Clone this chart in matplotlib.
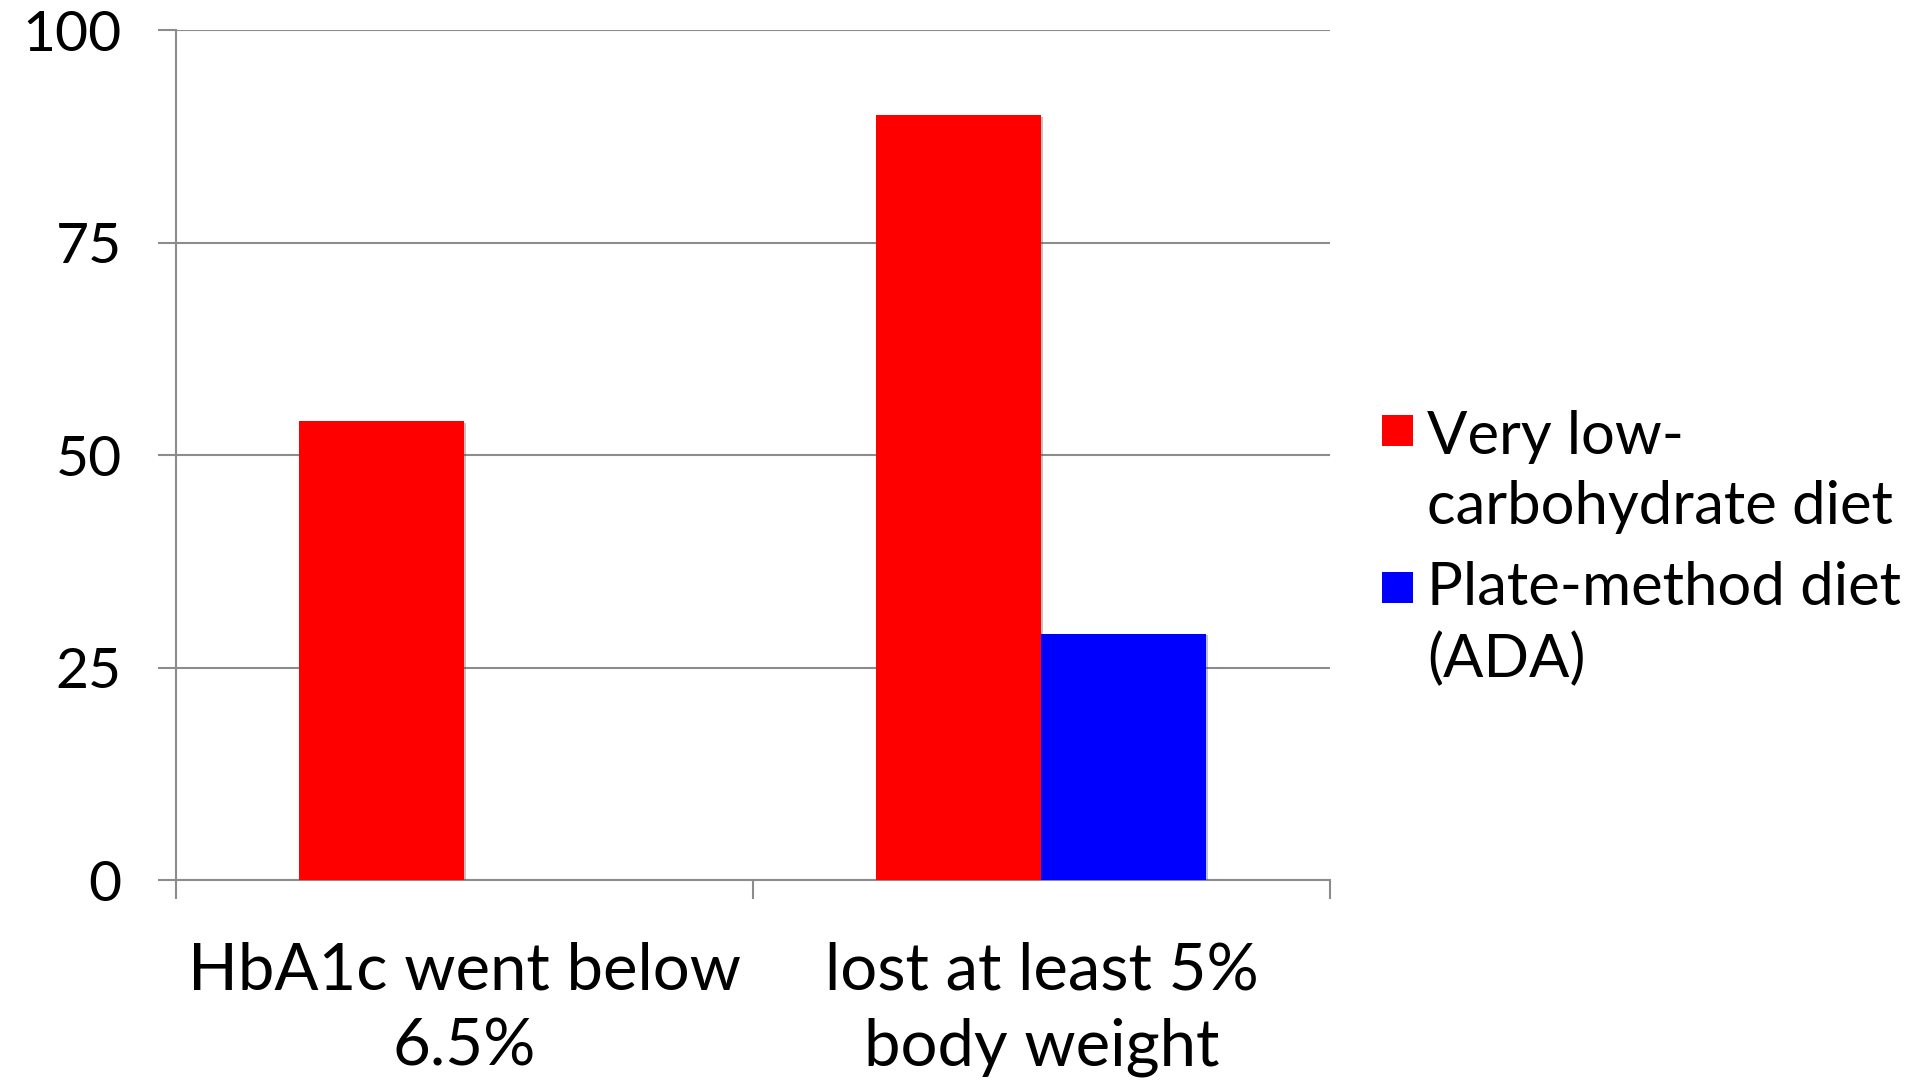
#!/usr/bin/env python3
"""
Diet outcomes bar chart
Share of patients reaching each target, by diet group
"""

import matplotlib
matplotlib.use('Agg')
import matplotlib.pyplot as plt
import matplotlib.patheffects as pe
from matplotlib.patches import Rectangle
import numpy as np

# Data
categories = ['HbA1c went below\n6.5%', 'lost at least 5%\nbody weight']
series_names = ['Very low-\ncarbohydrate diet', 'Plate-method diet\n(ADA)']
low_carb = [54, 90]
plate_method = [0, 29]
y_ticks = [0, 25, 50, 75, 100]


def create_chart():
    plt.rcParams['font.family'] = ['Lato', 'DejaVu Sans']
    fig = plt.figure(figsize=(19.05, 10.81), dpi=100)
    ax = fig.add_axes([0.0924, 0.1859, 0.6057, 0.7863])

    colors = ['#ff0000', '#0000ff']
    grid_color = '#8c8c8c'

    x = np.arange(len(categories))
    width = 0.286
    shadow = [pe.SimplePatchShadow(offset=(1.2, -1.2), shadow_rgbFace='#555555', alpha=0.35),
              pe.Normal()]

    for i, values in enumerate([low_carb, plate_method]):
        offset = -width / 2 if i == 0 else width / 2
        bars = ax.bar(x + offset, values, width, color=colors[i], zorder=3,
                      linewidth=0)
        for b in bars:
            if b.get_height() > 0:
                b.set_path_effects(shadow)

    ax.set_xlim(-0.5, len(categories) - 0.5)
    ax.set_ylim(0, 100)

    # Gridlines and axes
    ax.set_yticks(y_ticks)
    ax.set_yticklabels([str(t) for t in y_ticks], fontsize=41)
    ax.yaxis.grid(True, color=grid_color, linewidth=1.5, zorder=0)
    ax.tick_params(axis='y', length=13, width=1.5, color=grid_color, pad=26)

    ax.set_xticks(x)
    ax.set_xticklabels(categories, fontsize=47, linespacing=1.36)
    ax.set_xticks(np.arange(-0.5, len(categories)), minor=True)
    ax.tick_params(axis='x', which='major', length=0, pad=44)
    ax.tick_params(axis='x', which='minor', length=14, width=1.5, color=grid_color)

    for side in ['top', 'right']:
        ax.spines[side].set_visible(False)
    for side in ['left', 'bottom']:
        ax.spines[side].set_color(grid_color)
        ax.spines[side].set_linewidth(1.5)

    # Legend, square aligned with the first text line
    legend_rows = [(0.5873, 0.5755, colors[0], series_names[0]),
                   (0.4420, 0.4350, colors[1], series_names[1])]
    for sq_y, text_y, col, label in legend_rows:
        fig.patches.append(Rectangle((0.7252, sq_y), 0.0163, 0.0287,
                                     transform=fig.transFigure, facecolor=col,
                                     edgecolor='none'))
        fig.text(0.7490, text_y, label, fontsize=43, va='center_baseline',
                 ha='left', linespacing=1.37)

    plt.savefig('out.png', dpi=100, facecolor='white')


if __name__ == "__main__":
    create_chart()
